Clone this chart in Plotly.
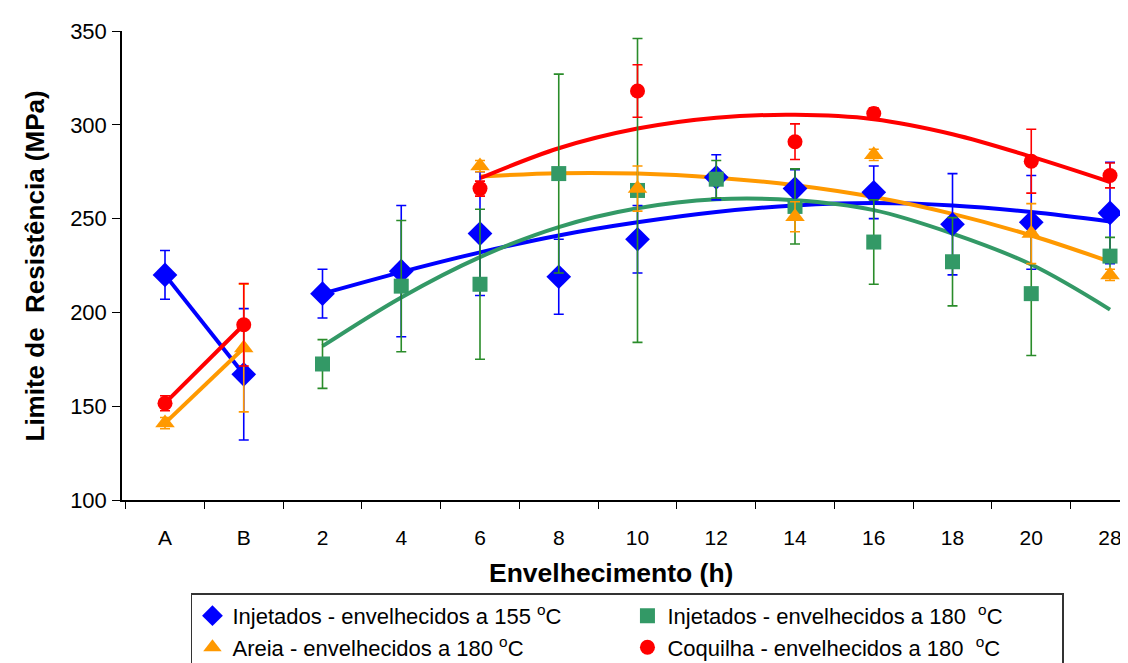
import plotly.graph_objects as go

categories = ["A", "B", "2", "4", "6", "8", "10", "12", "14", "16", "18", "20", "28"]

inj155 = [220, 167, 210, 222, 242, 219, 239, 272, 266, 264, 247, 248, 253]
inj155_err = [13, 35, 13, 35, 33, 20, 18, 12, 10, 14, 27, 25, 27]
inj180 = [None, None, 172.5, 214, 215, 274, 265, 271, 256.5, 237.5, 227, 210, 230]
inj180_err = [None, None, 13, 35, 40, 53, 81, 10, 20, 22.5, 23.5, 33, 10]
areia = [141, 181, None, None, 278, None, 266, None, 251, 284, None, 242, 220]
areia_err = [3, 34, None, None, 3, None, 12, None, 8, 3, None, 16, 3]
coq = [151.6, 193.4, None, None, 266, None, 318, None, 291, 306, None, 280.6, 273]
coq_err = [4, 22, None, None, 4, None, 14, None, 9.5, 3, None, 17, 6.6]

inj155_trend = [None, None, 210, 221.5, 232, 241, 248, 253.5, 257, 258.3, 257, 253.5, 248.5]
inj180_trend = [None, None, 182, 208, 229.5, 245.5, 255.5, 260.3, 259.8, 254.5, 242, 225.5, 201.5]
areia_trend = [None, None, None, None, 272.5, 274.2, 274, 271.8, 267.8, 261.5, 252.5, 241, 227]
coq_trend = [None, None, None, None, 271.5, 287.5, 298, 303.8, 305.3, 303, 295, 283, 269.5]

names = [
    "Injetados - envelhecidos a 155 <sup>o</sup>C",
    "Injetados - envelhecidos a 180  <sup>o</sup>C",
    "Areia - envelhecidos a 180 <sup>o</sup>C",
    "Coquilha - envelhecidos a 180  <sup>o</sup>C",
]

BLUE = "#0000FF"
GREEN = "#339966"
GREEN_ERR = "#2A8C2A"
ORANGE = "#FF9900"
RED = "#FF0000"
FONT = "Arial, Liberation Sans, sans-serif"

fig = go.Figure()

# trend curves
for yv, col in [(inj155_trend, BLUE), (inj180_trend, GREEN), (areia_trend, ORANGE), (coq_trend, RED)]:
    fig.add_trace(go.Scatter(x=categories, y=yv, mode="lines",
                             line=dict(color=col, width=4, shape="spline", smoothing=1),
                             showlegend=False, hoverinfo="skip"))

# A-B connecting lines
for yv, col in [(inj155, BLUE), (areia, ORANGE), (coq, RED)]:
    fig.add_trace(go.Scatter(x=categories[:2], y=yv[:2], mode="lines",
                             line=dict(color=col, width=4),
                             showlegend=False, hoverinfo="skip"))

def clean(a):
    return [0 if v is None else v for v in a]

series = [
    (inj155, inj155_err, names[0], BLUE, BLUE, "diamond", 19),
    (inj180, inj180_err, names[1], GREEN, GREEN_ERR, "square", 15),
    (areia, areia_err, names[2], ORANGE, ORANGE, "triangle-up", 17),
    (coq, coq_err, names[3], RED, RED, "circle", 15),
]
for yv, err, nm, col, ecol, sym, sz in series:
    fig.add_trace(go.Scatter(
        x=categories, y=yv, mode="markers", name=nm,
        marker=dict(color=col, symbol=sym, size=sz, line=dict(width=0)),
        error_y=dict(type="data", array=clean(err), color=ecol, thickness=1.6, width=5),
    ))

fig.update_layout(
    width=1128, height=663,
    margin=dict(l=114, r=0, t=23, b=171, autoexpand=False),
    paper_bgcolor="white", plot_bgcolor="white",
    font=dict(family=FONT, color="black", size=22),
    showlegend=True,
    legend=dict(
        orientation="h", x=0.068, y=-0.199, xanchor="left", yanchor="top",
        bordercolor="#333333", borderwidth=1.5, bgcolor="white",
        font=dict(size=22, family=FONT), entrywidth=390, entrywidthmode="pixels",
        tracegroupgap=0, itemwidth=30,
    ),
)

fig.update_xaxes(
    type="category", range=[-0.546, 12.33],
    showline=True, linecolor="black", linewidth=1.5,
    ticks="outside", tickson="boundaries", ticklen=7, tickcolor="black",
    tickfont=dict(size=21), ticklabelstandoff=18,
    showgrid=False, zeroline=False,
)
fig.update_yaxes(
    range=[100, 350], dtick=50,
    showline=True, linecolor="black", linewidth=1.5,
    ticks="outside", ticklen=8, tickcolor="black",
    tickfont=dict(size=22), ticklabelstandoff=1,
    showgrid=False, zeroline=False,
)

fig.add_annotation(text="<b>Envelhecimento (h)</b>", xref="paper", yref="paper",
                   x=0.482, y=-0.156, xanchor="center", yanchor="middle",
                   showarrow=False, font=dict(size=26.5))
fig.add_annotation(text="<b>Limite de  Resistência (MPa)</b>", xref="paper", yref="paper",
                   x=-0.0858, y=0.5, xanchor="center", yanchor="middle", textangle=-90,
                   showarrow=False, font=dict(size=26))

fig.write_html("out.html")
